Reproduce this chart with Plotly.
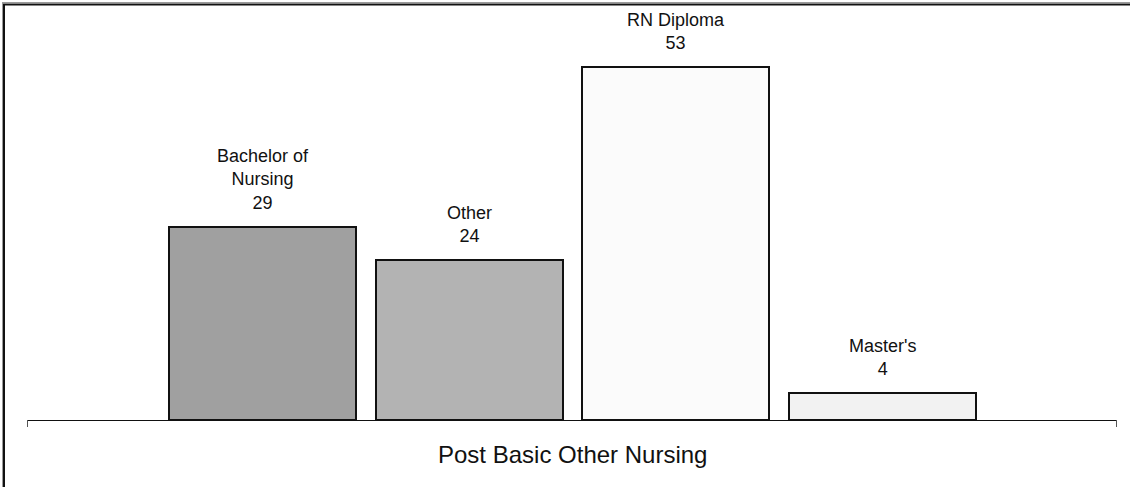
import plotly.graph_objects as go

categories = ["Bachelor of<br>Nursing", "Other", "RN Diploma", "Master's"]
values = [29, 24, 53, 4]
bar_colors = ["#a0a0a0", "#b3b3b3", "#fbfbfb", "#f2f2f2"]
axis_title = "Post Basic Other Nursing"

W, H = 1130, 487
L, R, B, T = 27, 13, 67, 0
pw = W - L - R
ph = H - B - T
x_idx = list(range(len(values)))
xr = [-1.1395, 4.1346]
yr = [0, 63.1]

fig = go.Figure()
fig.add_trace(go.Bar(
    x=x_idx, y=values, width=0.905,
    marker=dict(color=bar_colors, line=dict(color="#111111", width=2)),
    hoverinfo="skip",
))

for xi, cat, v in zip(x_idx, categories, values):
    fig.add_annotation(
        x=xi, y=v, xref="x", yref="y",
        text=f"{cat}<br>{v}", showarrow=False,
        yanchor="bottom", xanchor="center", yshift=12,
        font=dict(family="Liberation Sans, Arial", size=18, color="#111111"),
    )

def px_x(p):
    return (p - L) / pw

def px_y(p):
    return (H - B - p) / ph

fig.add_annotation(
    x=px_x(572), y=px_y(454), xref="paper", yref="paper",
    text=axis_title, showarrow=False, xanchor="center", yanchor="middle",
    font=dict(family="Liberation Sans, Arial", size=24, color="#111111"),
)

shapes = [
    # frame (sunken style)
    dict(type="line", x0=px_x(2), x1=px_x(1130), y0=px_y(2.5), y1=px_y(2.5), line=dict(color="#9a9a9a", width=1)),
    dict(type="line", x0=px_x(3), x1=px_x(1130), y0=px_y(4.5), y1=px_y(4.5), line=dict(color="#111111", width=2)),
    dict(type="line", x0=px_x(2.5), x1=px_x(2.5), y0=px_y(2), y1=px_y(487), line=dict(color="#9a9a9a", width=1)),
    dict(type="line", x0=px_x(4), x1=px_x(4), y0=px_y(4), y1=px_y(487), line=dict(color="#111111", width=2)),
    # axis end ticks
    dict(type="line", x0=px_x(27.5), x1=px_x(27.5), y0=px_y(420), y1=px_y(427), line=dict(color="#555555", width=1)),
    dict(type="line", x0=px_x(1116.5), x1=px_x(1116.5), y0=px_y(420), y1=px_y(427), line=dict(color="#555555", width=1)),
]
for s in shapes:
    s.update(xref="paper", yref="paper", layer="above")
fig.update_layout(shapes=shapes)

fig.update_layout(
    width=W, height=H,
    margin=dict(l=L, r=R, t=T, b=B, pad=0),
    paper_bgcolor="white", plot_bgcolor="white",
    showlegend=False,
    bargap=0,
    xaxis=dict(range=xr, showgrid=False, zeroline=False, showline=True,
               linecolor="#111111", linewidth=1, showticklabels=False, ticks=""),
    yaxis=dict(range=yr, showgrid=False, zeroline=False, showline=False,
               showticklabels=False, ticks=""),
)

fig.write_html(
    "out.html",
    config={"displayModeBar": False},
    post_script="document.body.style.margin='0';document.body.style.overflow='hidden';",
)
